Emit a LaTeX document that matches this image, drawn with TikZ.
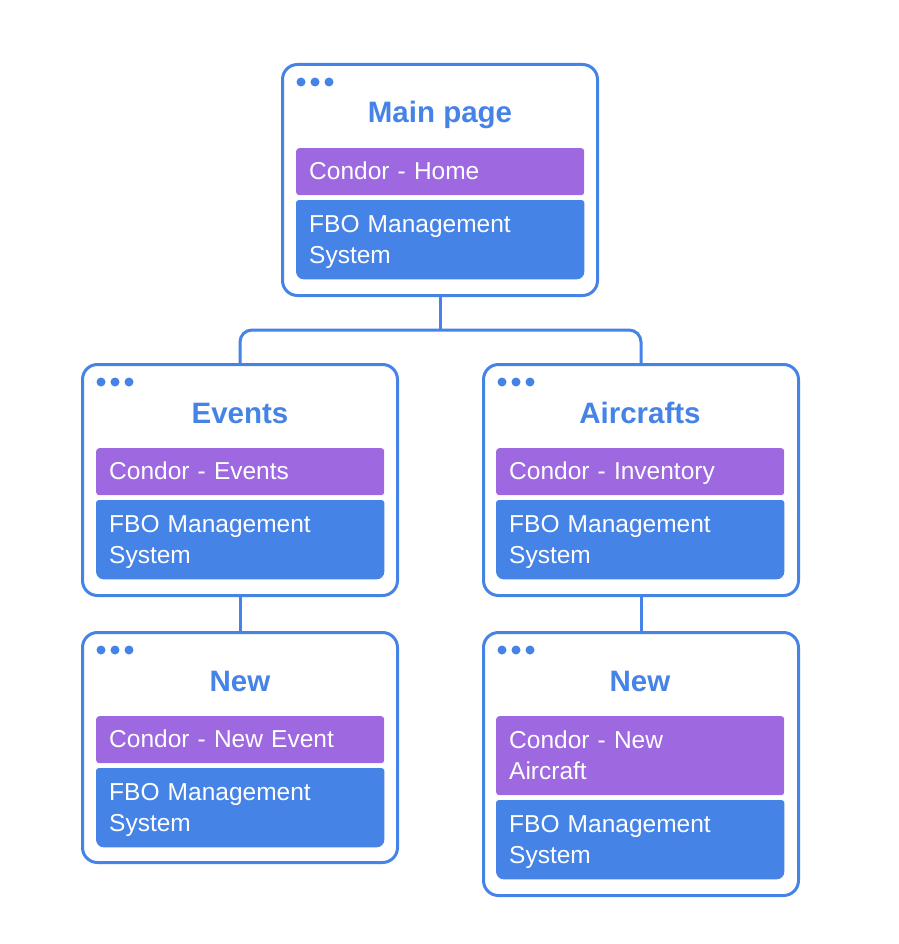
\documentclass[tikz,border=0pt]{standalone}
\usepackage{fontspec}
\setmainfont{Liberation Sans}
\usetikzlibrary{calc}
\definecolor{bl}{HTML}{4583E6}
\definecolor{pu}{HTML}{9D68E0}
\pgfdeclarelayer{back}\pgfdeclarelayer{fore}\pgfsetlayers{back,main,fore}
\newcommand\tst{\rule[-7.5pt]{0pt}{31pt}}
\begin{document}
\begin{tikzpicture}[x=1pt,y=-1pt,
 pagebox/.style={draw=bl, line width=3pt, fill=white, rounded corners=15pt, minimum width=315pt, anchor=north west, inner sep=0pt},
 ttl/.style={font=\fontsize{29.5}{34}\selectfont\bfseries, text=bl, anchor=base, inner sep=0pt},
 dotc/.style={circle, fill=bl, minimum size=9pt, inner sep=0pt},
 tag/.style={anchor=north west, text=white, text width=262pt, inner xsep=13pt, inner ysep=0pt, align=left, font=\fontsize{24.5}{31}\selectfont},
 ptag/.style={tag, fill=pu, rounded corners=3pt},
 btag/.style={tag},
 link/.style={draw=bl, line width=3pt}
]
\useasboundingbox (0,0) rectangle (898,944);

% pages
\begin{pgfonlayer}{back}
\node[pagebox, minimum height=231pt] (main) at (281,63) {};
\node[pagebox, minimum height=231pt] (events) at (81,363) {};
\node[pagebox, minimum height=231pt] (aircrafts) at (482,363) {};
\node[pagebox, minimum height=230pt] (newl) at (81,631) {};
\node[pagebox, minimum height=263pt] (newr) at (482,631) {};
\end{pgfonlayer}

% dots
\foreach \n/\X/\Y in {m/281/63, e/81/363, a/482/363, l/81/631, r/482/631}{
  \node[dotc] (\n d1) at (\X+20,\Y+19) {};
  \node[dotc] (\n d2) at (\X+34,\Y+19) {};
  \node[dotc] (\n d3) at (\X+48,\Y+19) {};
}

% titles
\node[ttl] (tmain) at (440,123) {Main page};
\node[ttl] (tevents) at (240,423) {Events};
\node[ttl] (taircrafts) at (640,423) {Aircrafts};
\node[ttl] (tnewl) at (240,691) {New};
\node[ttl] (tnewr) at (640,691) {New};

% tags
\begin{pgfonlayer}{fore}
\node[ptag, minimum height=47pt] (pm) at (296,148) {\tst Condor - Home};
\node[btag, minimum height=79pt] (bm) at (296,200) {\tst FBO Management\\\tst System};
\node[ptag, minimum height=47pt] (pe) at (96,448) {\tst Condor - Events};
\node[btag, minimum height=79pt] (be) at (96,500) {\tst FBO Management\\\tst System};
\node[ptag, minimum height=47pt] (pa) at (496,448) {\tst Condor - Inventory};
\node[btag, minimum height=79pt] (ba) at (496,500) {\tst FBO Management\\\tst System};
\node[ptag, minimum height=47pt] (pl) at (96,716) {\tst Condor - New Event};
\node[btag, minimum height=79pt] (bl) at (96,768) {\tst FBO Management\\\tst System};
\node[ptag, minimum height=79pt] (pr) at (496,716) {\tst Condor - New\\\tst Aircraft};
\node[btag, minimum height=79pt] (br) at (496,800) {\tst FBO Management\\\tst System};
\end{pgfonlayer}

\foreach \b in {bm,be,ba,bl,br}{
  \fill[bl, rounded corners=3pt] (\b.west) |- (\b.north east) -- (\b.east) [rounded corners=8pt] |- (\b.south west) -- cycle;
}

% connectors
\coordinate (hub) at (440,330);
\draw[link] (main.south) -- (main.south |- hub);
\draw[link, rounded corners=12pt] (events.north) |- (hub) -| (aircrafts.north);
\draw[link] (events.south) -- (newl.north);
\draw[link] (aircrafts.south) -- (newr.north);
\end{tikzpicture}
\end{document}
